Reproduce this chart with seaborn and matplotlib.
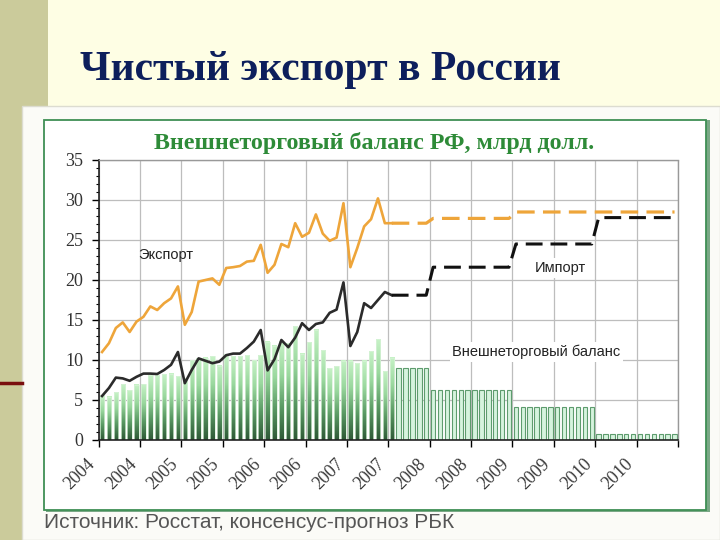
import numpy as np
import pandas as pd
import matplotlib
matplotlib.use("Agg")
import matplotlib.pyplot as plt
import seaborn as sns
from matplotlib.patches import Rectangle
from matplotlib.lines import Line2D
from matplotlib.colors import LinearSegmentedColormap

# ---------------- data ----------------
tick_labels = ["2004", "2004", "2005", "2005", "2006", "2006", "2007", "2007",
               "2008", "2008", "2009", "2009", "2010", "2010"]

# monthly actual values, Jan 2004 - Jul 2007 (bn USD)
export_actual = [11.0, 12.1, 14.0, 14.7, 13.5, 14.8, 15.4, 16.7, 16.25, 17.1, 17.7, 19.2,
                 14.4, 16.0, 19.8, 20.0, 20.2, 19.4, 21.5, 21.6, 21.75, 22.3, 22.4, 24.4,
                 20.9, 21.9, 24.5, 24.1, 27.1, 25.4, 25.9, 28.2, 25.8, 24.9, 25.3, 29.6,
                 21.6, 24.0, 26.7, 27.6, 30.2, 27.1, 27.1]
import_actual = [5.5, 6.5, 7.8, 7.7, 7.4, 7.9, 8.3, 8.3, 8.25, 8.75, 9.4, 11.0,
                 7.1, 8.75, 10.2, 9.9, 9.6, 9.8, 10.6, 10.8, 10.8, 11.5, 12.3, 13.75,
                 8.7, 10.1, 12.5, 11.6, 12.8, 14.6, 13.75, 14.5, 14.7, 15.9, 16.3, 19.7,
                 11.75, 13.5, 17.1, 16.5, 17.5, 18.5, 18.1]
balance_actual = [5.6, 5.4, 6.0, 7.0, 6.2, 6.9, 7.0, 8.1, 8.1, 8.2, 8.3, 8.0,
                  7.7, 10.0, 10.2, 10.3, 10.5, 9.3, 10.7, 10.5, 10.5, 10.6, 10.0, 10.6,
                  12.3, 11.8, 12.3, 12.1, 14.2, 10.8, 12.2, 13.8, 11.2, 9.0, 9.2, 9.9,
                  9.9, 9.6, 9.9, 11.1, 12.6, 8.6, 10.3]

# consensus forecast: Aug-Dec 2007, 2008, 2009, 2010
forecast_months = [5, 12, 12, 12]
export_forecast = [27.1, 27.7, 28.5, 28.5]
import_forecast = [18.1, 21.6, 24.5, 27.8]
balance_forecast = [9.0, 6.2, 4.1, 0.75]

n_act = len(balance_actual)
bal_all = balance_actual + list(np.repeat(balance_forecast, forecast_months))
n_all = len(bal_all)
df = pd.DataFrame({"m": np.arange(n_all), "balance": bal_all,
                   "kind": ["actual"] * n_act + ["forecast"] * (n_all - n_act)})

exp_fc = [export_actual[-1]] + list(np.repeat(export_forecast, forecast_months))
imp_fc = [import_actual[-1]] + list(np.repeat(import_forecast, forecast_months))
fc_x = np.arange(n_act - 1, n_all)

# ---------------- figure ----------------
W, H = 720, 540
fig = plt.figure(figsize=(7.2, 5.4), dpi=100)
fig.patch.set_facecolor("#fefee4")

def fx(px):
    return px / W

def fy(py):
    return 1 - py / H

# slide decorations
fig.add_artist(Rectangle((0, 0), fx(48), 1, transform=fig.transFigure,
                         facecolor="#cbcb9b", edgecolor="none", zorder=0))
fig.add_artist(Rectangle((fx(22), 0), 1 - fx(22), fy(106), transform=fig.transFigure,
                         facecolor="#fbfbf7", edgecolor="#dcdcd0", lw=1, zorder=1))
fig.add_artist(Line2D([0, fx(22)], [fy(383), fy(383)], transform=fig.transFigure,
                      color="#7a0f0f", lw=2.5, zorder=2))
fig.add_artist(Rectangle((fx(46), fy(512)), fx(708 - 44), (512 - 120) / H,
                         transform=fig.transFigure, facecolor="#7aa886",
                         edgecolor="none", zorder=1.5))
fig.add_artist(Rectangle((fx(44), fy(510)), fx(708 - 46), (510 - 120) / H,
                         transform=fig.transFigure, facecolor="white",
                         edgecolor="#3f8f55", lw=1.3, zorder=2))

fig.text(fx(80), fy(70), "Чистый экспорт в России", fontsize=30, fontweight="bold",
         family="Liberation Serif", color="#0d1f5c", va="center", ha="left", zorder=3)
fig.text(fx(374), fy(143), "Внешнеторговый баланс РФ, млрд долл.", fontsize=17.3,
         fontweight="bold", family="Liberation Serif", color="#2e8b38",
         va="center", ha="center", zorder=3)
fig.text(fx(44), fy(522), "Источник: Росстат, консенсус-прогноз РБК", fontsize=15,
         family="Liberation Sans", color="#555555", va="center", ha="left", zorder=3)

# ---------------- axes ----------------
ax = fig.add_axes([fx(98.6), fy(440), fx(678 - 98.6), (440 - 160) / H], zorder=5)
ax.set_facecolor("white")

sns.barplot(data=df, x="m", y="balance", hue="kind",
            palette={"actual": "#6fb07a", "forecast": "#d6f3de"},
            dodge=False, width=0.64, legend=False, ax=ax, saturation=1)

cmap = LinearSegmentedColormap.from_list("g", ["#2f5a37", "#5a9a64", "#9ad89e", "#c6f2c6"])
grad = np.linspace(0, 1, 64).reshape(-1, 1)
for p in list(ax.patches):
    x0, w, h = p.get_x(), p.get_width(), p.get_height()
    if x0 + w / 2 < n_act - 0.5:
        ax.imshow(grad, extent=[x0, x0 + w, 0, h], origin="lower", aspect="auto",
                  cmap=cmap, zorder=2)
        p.set_facecolor("none")
        p.set_edgecolor("#d9f2d9")
        p.set_linewidth(0.5)
        p.set_zorder(2.2)
    else:
        p.set_edgecolor("#5e9c6e")
        p.set_linewidth(0.8)
        p.set_zorder(2)

# lines
sns.lineplot(x=np.arange(n_act), y=export_actual, ax=ax, color="#eea53a", lw=1.9, zorder=4)
sns.lineplot(x=np.arange(n_act), y=import_actual, ax=ax, color="#2b2b2b", lw=1.9, zorder=4)
sns.lineplot(x=fc_x, y=exp_fc, ax=ax, color="#eea53a", lw=2.3,
             linestyle=(0, (5.5, 2.6)), zorder=4)
sns.lineplot(x=fc_x, y=imp_fc, ax=ax, color="#111111", lw=2.2,
             linestyle=(0, (5.5, 2.6)), zorder=4)

ax.set_xlim(-0.5, n_all - 0.5)
ax.set_ylim(0, 35)
ax.set_xlabel("")
ax.set_ylabel("")

xt = [-0.5 + 6 * k for k in range(15)]
ax.set_xticks(xt)
ax.set_xticklabels(tick_labels + [""], rotation=45, ha="right", va="top",
                   rotation_mode="default", family="Liberation Serif", fontsize=13,
                   color="#3a3a3a")
ax.set_yticks(range(0, 36, 5))
ax.set_yticklabels([str(v) for v in range(0, 36, 5)], family="Liberation Serif",
                   fontsize=13, color="#333333")
ax.set_yticks(range(0, 36), minor=True)
ax.tick_params(axis="y", which="major", length=5, width=1, pad=6, direction="out")
ax.tick_params(axis="y", which="minor", length=2.5, width=0.8, direction="out")
ax.tick_params(axis="x", which="major", length=5, width=1, pad=6, direction="out")

ax.grid(True, which="major", color="#bdbdbd", lw=0.9)
ax.set_axisbelow(True)
for s in ["left", "bottom"]:
    ax.spines[s].set_color("#222222")
    ax.spines[s].set_linewidth(1.2)
for s in ["top", "right"]:
    ax.spines[s].set_color("#999999")
    ax.spines[s].set_linewidth(1.0)
    ax.spines[s].set_linestyle((0, (1, 1)))

ax.text(9.3, 23.1, "Экспорт", family="Liberation Sans", fontsize=10.5,
        color="#222222", ha="center", va="center", zorder=6)
ax.text(66.5, 21.5, "Импорт", family="Liberation Sans", fontsize=10.5,
        color="#222222", ha="center", va="center", zorder=6,
        bbox=dict(facecolor="white", edgecolor="none", pad=2))
ax.text(63.0, 11.0, "Внешнеторговый баланс", family="Liberation Sans", fontsize=10.5,
        color="#222222", ha="center", va="center", zorder=6,
        bbox=dict(facecolor="white", edgecolor="none", pad=2))

fig.savefig("out.png", dpi=100, facecolor=fig.get_facecolor())
